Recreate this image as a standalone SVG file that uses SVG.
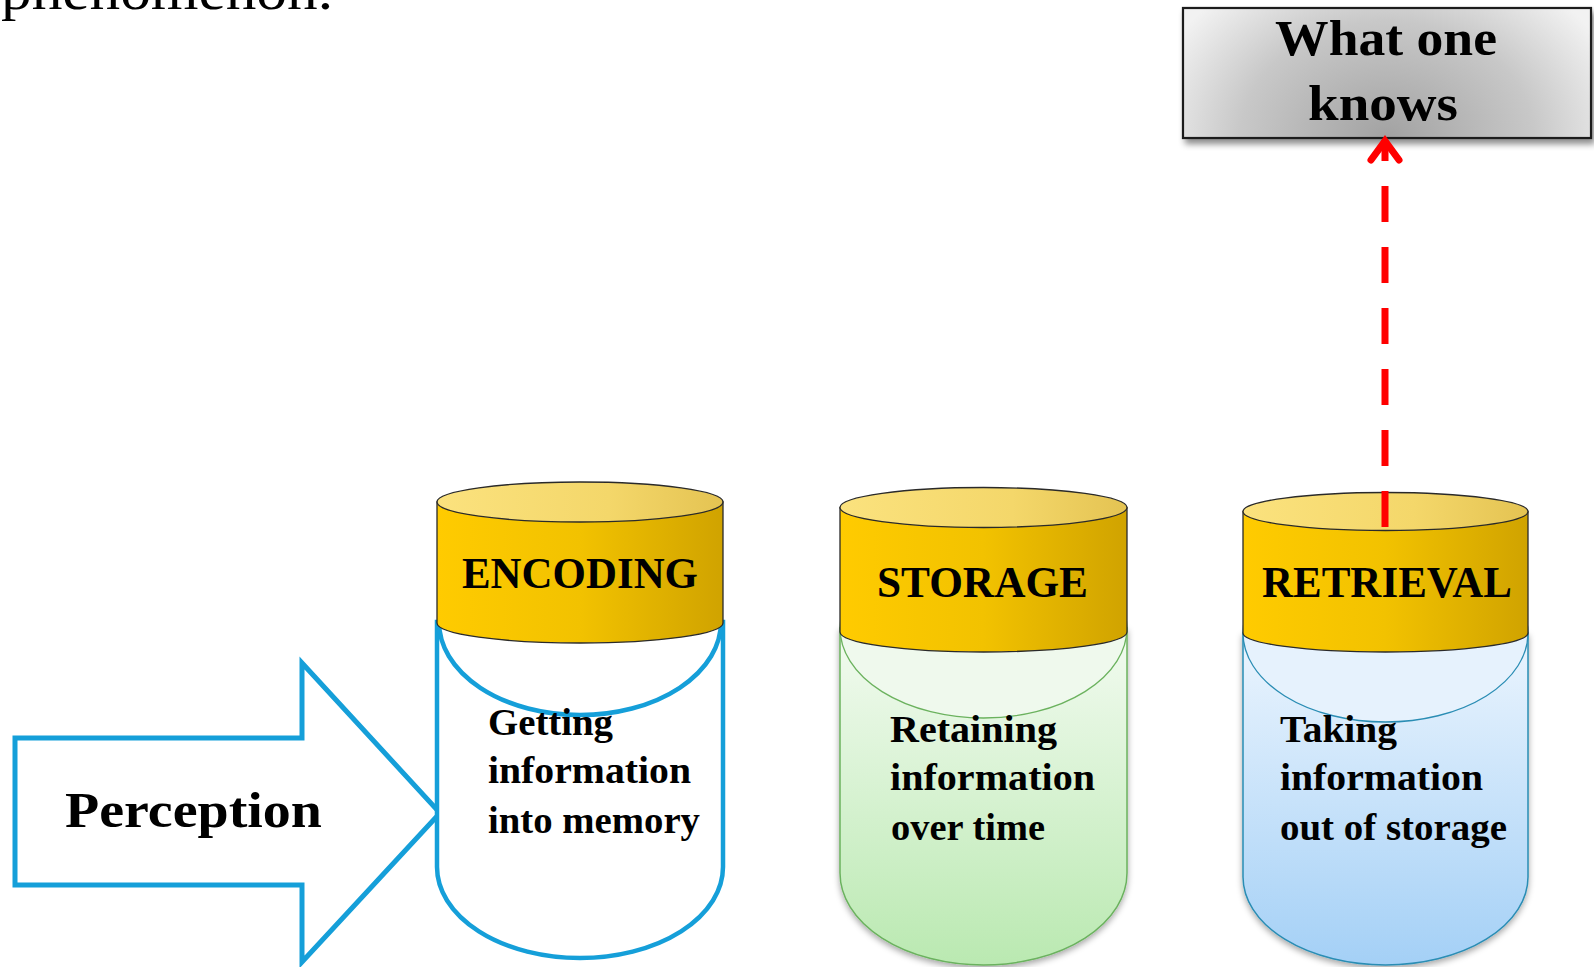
<svg xmlns="http://www.w3.org/2000/svg" width="1594" height="967" viewBox="0 0 1594 967">
<defs>
<style>
.ttl{font-family:"Liberation Serif","DejaVu Serif",serif;font-weight:bold;fill:#000}
.hdr{font-family:"Liberation Serif","DejaVu Serif",serif;font-weight:bold;font-size:44px;fill:#000}
.body{font-family:"Liberation Serif","DejaVu Serif",serif;font-weight:bold;font-size:37px;fill:#000}
.band{fill:url(#gBand);stroke:#2a2a2a;stroke-width:1.3}
.top{fill:url(#gTop);stroke:#2a2a2a;stroke-width:1.3}
.blue{fill:#fff;stroke:#159fd9;stroke-width:4.5}
</style>
<linearGradient id="gBand" x1="0" y1="0" x2="1" y2="0">
<stop offset="0" stop-color="#ffcb00"/><stop offset="0.5" stop-color="#f2c200"/><stop offset="1" stop-color="#d0a300"/>
</linearGradient>
<linearGradient id="gTop" x1="0" y1="0" x2="1" y2="0">
<stop offset="0" stop-color="#fbe27e"/><stop offset="0.6" stop-color="#f4d76a"/><stop offset="1" stop-color="#e4c352"/>
</linearGradient>
<linearGradient id="gGreen" x1="0" y1="0" x2="0" y2="1">
<stop offset="0" stop-color="#f3fbf1"/><stop offset="1" stop-color="#bae9b1"/>
</linearGradient>
<linearGradient id="gBlue" x1="0" y1="0" x2="0" y2="1">
<stop offset="0" stop-color="#ecf5fe"/><stop offset="1" stop-color="#a4d0f6"/>
</linearGradient>
<radialGradient id="gBox" cx="0.5" cy="1" r="0.6" gradientTransform="translate(0.5 1) scale(1 2.5) translate(-0.5 -1)">
<stop offset="0" stop-color="#a2a2a2"/><stop offset="0.6" stop-color="#c8c8c8"/><stop offset="1" stop-color="#f2f2f2"/>
</radialGradient>
<filter id="sh" x="-10%" y="-10%" width="120%" height="125%">
<feDropShadow dx="0" dy="3" stdDeviation="3" flood-color="#000" flood-opacity="0.35"/>
</filter>
<filter id="shBox" x="-10%" y="-10%" width="120%" height="140%">
<feDropShadow dx="3" dy="5" stdDeviation="3" flood-color="#000" flood-opacity="0.45"/>
</filter>
</defs>
<rect width="1594" height="967" fill="#fff"/>

<text class="ttl" x="1" y="9" font-size="54" font-weight="normal" textLength="332" lengthAdjust="spacingAndGlyphs" style="font-weight:normal">phenomenon.</text>

<g id="what-one-knows">
<rect x="1183" y="8" width="408" height="130" fill="url(#gBox)" stroke="#1e1e1e" stroke-width="2.2" filter="url(#shBox)"/>
<text class="ttl" font-size="50" x="1386" y="55" text-anchor="middle" textLength="222" lengthAdjust="spacingAndGlyphs">What one</text>
<text class="ttl" font-size="50" x="1383" y="120" text-anchor="middle" textLength="150" lengthAdjust="spacingAndGlyphs">knows</text>
</g>

<g id="perception">
<polygon points="15,738 302,738 302,663 440,813 302,962 302,885 15,885" fill="#fff" stroke="#159fd9" stroke-width="5"/>
<text class="ttl" font-size="50" x="65" y="827" textLength="257" lengthAdjust="spacingAndGlyphs">Perception</text>
</g>

<g id="encoding">
<path class="blue" d="M437,622 L437,867 A143,91 0 0 0 723,867 L723,622 Z"/>
<ellipse class="blue" cx="580" cy="622" rx="141" ry="93"/>
<path class="band" d="M437,502 L437,623 A143,20 0 0 0 723,623 L723,502 Z"/>
<ellipse class="top" cx="580" cy="502" rx="143" ry="20"/>
<text class="hdr" x="462" y="588" textLength="236" lengthAdjust="spacingAndGlyphs">ENCODING</text>
<text class="body" x="488" y="735" textLength="125" lengthAdjust="spacingAndGlyphs">Getting</text>
<text class="body" x="488" y="783" textLength="203" lengthAdjust="spacingAndGlyphs">information</text>
<text class="body" x="488" y="833" textLength="212" lengthAdjust="spacingAndGlyphs">into memory</text>
</g>

<g id="storage">
<path d="M840,628 L840,873 A143.5,92 0 0 0 1127,873 L1127,628 Z" fill="url(#gGreen)" stroke="#6bb25e" stroke-width="1.5" filter="url(#sh)"/>
<ellipse cx="983.5" cy="628" rx="143.5" ry="90" fill="#eff9ed" stroke="#6bb25e" stroke-width="1.3"/>
<path class="band" d="M840,507.5 L840,632 A143.5,20 0 0 0 1127,632 L1127,507.5 Z"/>
<ellipse class="top" cx="983.5" cy="507.5" rx="143.5" ry="20"/>
<text class="hdr" x="877" y="597" textLength="211" lengthAdjust="spacingAndGlyphs">STORAGE</text>
<text class="body" x="890" y="742" textLength="167" lengthAdjust="spacingAndGlyphs">Retaining</text>
<text class="body" x="890" y="790" textLength="205" lengthAdjust="spacingAndGlyphs">information</text>
<text class="body" x="891" y="840" textLength="154" lengthAdjust="spacingAndGlyphs">over time</text>
</g>

<g id="retrieval">
<path d="M1243,633 L1243,877 A142.5,88 0 0 0 1528,877 L1528,633 Z" fill="url(#gBlue)" stroke="#2a8db4" stroke-width="1.5" filter="url(#sh)"/>
<ellipse cx="1385.5" cy="633" rx="142.5" ry="89" fill="#e6f2fd" stroke="#2a8db4" stroke-width="1.3"/>
<path class="band" d="M1243,511.5 L1243,633 A142.5,19 0 0 0 1528,633 L1528,511.5 Z"/>
<ellipse class="top" cx="1385.5" cy="511.5" rx="142.5" ry="19"/>
<text class="hdr" x="1262" y="597" textLength="250" lengthAdjust="spacingAndGlyphs">RETRIEVAL</text>
<text class="body" x="1280" y="742" textLength="117" lengthAdjust="spacingAndGlyphs">Taking</text>
<text class="body" x="1280" y="790" textLength="203" lengthAdjust="spacingAndGlyphs">information</text>
<text class="body" x="1280" y="840" textLength="227" lengthAdjust="spacingAndGlyphs">out of storage</text>
</g>

<g id="connectors">
<line x1="1385" y1="140" x2="1385" y2="528" stroke="#ff0000" stroke-width="7" stroke-dasharray="36 25" stroke-dashoffset="15"/>
<polyline points="1371,160 1385,141 1399,160" fill="none" stroke="#ff0000" stroke-width="7" stroke-linecap="round" stroke-linejoin="miter"/>
</g>
</svg>
